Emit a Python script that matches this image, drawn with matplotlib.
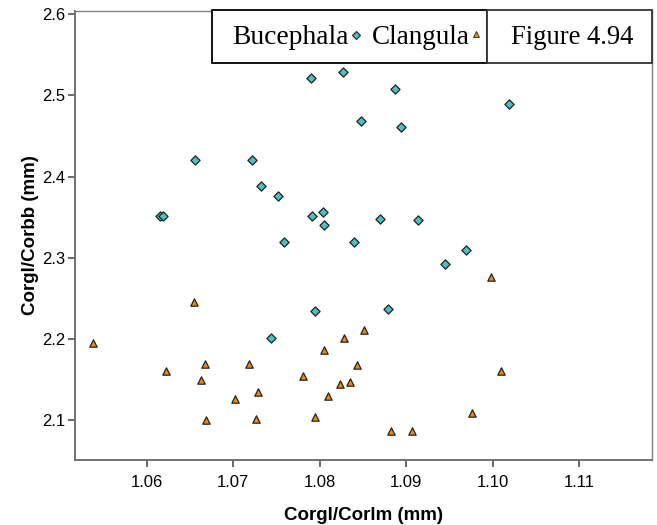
import matplotlib
matplotlib.use("Agg")
import matplotlib.pyplot as plt
from matplotlib.patches import Rectangle
from matplotlib.lines import Line2D

# Bucephala (diamonds)
buc_x = [1.0790, 1.0827, 1.0848, 1.0656, 1.0722, 1.0732, 1.0752, 1.0615,
         1.0619, 1.0791, 1.0804, 1.0805, 1.0759, 1.0839, 1.0887, 1.1019,
         1.0894, 1.0870, 1.0913, 1.0969, 1.0945, 1.0879, 1.0794, 1.0743]
buc_y = [2.522, 2.529, 2.468, 2.421, 2.421, 2.389, 2.376, 2.351,
         2.352, 2.351, 2.356, 2.341, 2.320, 2.319, 2.508, 2.490,
         2.461, 2.348, 2.347, 2.310, 2.293, 2.237, 2.235, 2.201]

# Clangula (triangles)
cla_x = [1.0998, 1.0851, 1.1009, 1.0976, 1.0882, 1.0906, 1.0655, 1.0538,
         1.0828, 1.0805, 1.0667, 1.0718, 1.0843, 1.0622, 1.0663, 1.0781,
         1.0823, 1.0835, 1.0729, 1.0702, 1.0809, 1.0669, 1.0726, 1.0794]
cla_y = [2.276, 2.211, 2.160, 2.109, 2.087, 2.087, 2.245, 2.195,
         2.201, 2.187, 2.169, 2.169, 2.168, 2.160, 2.150, 2.155,
         2.145, 2.147, 2.135, 2.126, 2.130, 2.100, 2.101, 2.104]

x_ticks = [1.06, 1.07, 1.08, 1.09, 1.10, 1.11]
x_ticklabels = ["1.06", "1.07", "1.08", "1.09", "1.10", "1.11"]
y_ticks = [2.1, 2.2, 2.3, 2.4, 2.5, 2.6]

teal = "#4BBFC1"
orange = "#F08A0C"
edge = "#222222"

W, H = 657, 525
fig = plt.figure(figsize=(W / 100, H / 100), dpi=100)
ax = fig.add_axes([75 / W, 1 - 460 / H, (652 - 75) / W, (460 - 11) / H])

ax.scatter(buc_x, buc_y, marker="D", s=22, facecolor=teal, edgecolor=edge, linewidth=0.9, zorder=3)
ax.scatter(cla_x, cla_y, marker="^", s=28, facecolor=orange, edgecolor=edge, linewidth=0.9, zorder=3)

ax.set_xlim(1.0517, 1.1184)
ax.set_ylim(2.051, 2.604)
ax.set_xticks(x_ticks)
ax.set_xticklabels(x_ticklabels)
ax.set_yticks(y_ticks)

for side in ["left", "bottom"]:
    ax.spines[side].set_color("#707070")
    ax.spines[side].set_linewidth(1.4)
for side in ["top", "right"]:
    ax.spines[side].set_color("#808080")
    ax.spines[side].set_linewidth(1.0)

ax.tick_params(direction="out", length=5, width=1.2, color="#505050",
               labelsize=12, labelcolor="black")
ax.tick_params(axis="x", pad=6)
ax.tick_params(axis="y", pad=2)
for lab in ax.get_xticklabels() + ax.get_yticklabels():
    lab.set_family("Liberation Sans")

ax.set_xlabel("Corgl/Corlm (mm)", fontsize=13.5, fontweight="bold", family="Liberation Sans", labelpad=12)
ax.set_ylabel("Corgl/Corbb (mm)", fontsize=13.5, fontweight="bold", family="Liberation Sans", labelpad=2)

# legend boxes drawn in pixel coordinates of the figure
def fx(px):
    return px / W

def fy(py):
    return 1 - py / H

box1 = Rectangle((fx(212), fy(63)), fx(487) - fx(212), fy(10) - fy(63), transform=fig.transFigure,
                 facecolor="white", edgecolor="black", linewidth=1.3, zorder=5)
box2 = Rectangle((fx(487), fy(63)), fx(652) - fx(487), fy(10) - fy(63), transform=fig.transFigure,
                 facecolor="white", edgecolor="#333333", linewidth=1.3, zorder=5)
fig.add_artist(box1)
fig.add_artist(box2)

fig.text(fx(232), fy(37), "Bucephala", fontsize=19.8, family="Liberation Serif", va="center", ha="left", zorder=6)
fig.text(fx(372), fy(37), "Clangula", fontsize=19.5, family="Liberation Serif", va="center", ha="left", zorder=6)
fig.text(fx(572), fy(37), "Figure 4.94", fontsize=19.2, family="Liberation Serif", va="center", ha="center", zorder=6)

fig.add_artist(Line2D([fx(356)], [fy(35)], marker="D", markersize=4.2, markerfacecolor=teal,
                      markeredgecolor=edge, markeredgewidth=0.8, transform=fig.transFigure, zorder=7))
fig.add_artist(Line2D([fx(476)], [fy(34)], marker="^", markersize=4.5, markerfacecolor=orange,
                      markeredgecolor=edge, markeredgewidth=0.6, transform=fig.transFigure, zorder=7))

fig.savefig("out.png", dpi=100)
